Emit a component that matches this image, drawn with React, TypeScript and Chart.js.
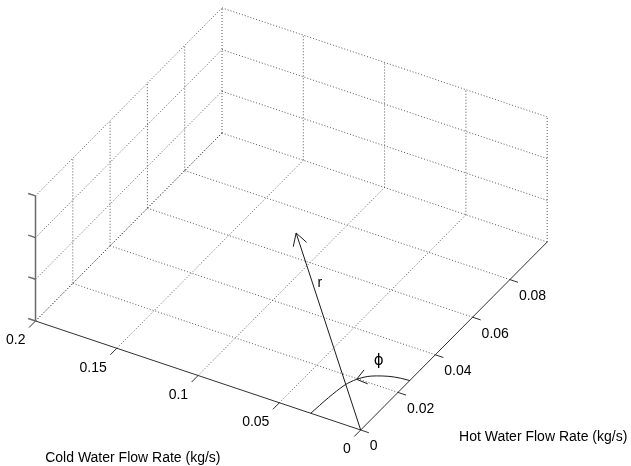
import React, { useEffect, useRef } from 'react';
import { Chart, registerables } from 'chart.js';

Chart.register(...registerables);

// ---- data ----
const coldTicks = [0, 0.05, 0.1, 0.15, 0.2];
const coldTickLabels = ['0', '0.05', '0.1', '0.15', '0.2'];
const hotTicks = [0, 0.02, 0.04, 0.06, 0.08];
const hotTickLabels = ['0', '0.02', '0.04', '0.06', '0.08'];
const zTicks = [0, 1, 2, 3];
const coldRange = [0, 0.2];
const hotRange = [0, 0.1];
const zRange = [0, 3];
// r vector end point (cold, hot) on the floor plane
const rVectorCold = 0.12;
const rVectorHot = 0.07;
// phi arc points (cold, hot)
const arcCold = [0.0307, 0.0297, 0.0279, 0.0251, 0.0215, 0.0175, 0.0115, 0.0055, 0];
const arcHot = [0, 0.0085, 0.0159, 0.0197, 0.0222, 0.0237, 0.0252, 0.026, 0.0263];
const arcArrowIndex = 3;
const coldTitle = 'Cold Water Flow Rate (kg/s)';
const hotTitle = 'Hot Water Flow Rate (kg/s)';

// ---- view (layout) ----
const W = 631;
const H = 466;
const VIEW = { ox: 360.7, oy: 430, cx: -1626, cy: -545, hx: 1865, hy: -1880, zx: 0, zy: -41.7 };
const proj = (c: number, h: number, z: number) => ({
  x: VIEW.ox + c * VIEW.cx + h * VIEW.hx + z * VIEW.zx,
  y: VIEW.oy + c * VIEW.cy + h * VIEW.hy + z * VIEW.zy,
});

const FONT = '"Liberation Sans", Arial, sans-serif';
const GRID = { color: 'rgba(70,70,70,0.9)', width: 1, dash: [1, 2] };
const AXIS = { color: '#303030', width: 1 };
const ZAXIS = { color: '#6a6a6a', width: 1.5 };
const INK = { color: '#1a1a1a', width: 1 };

function seg(pts: { x: number; y: number }[], st: any, tension = 0) {
  return {
    data: pts.map((p) => ({ x: p.x, y: p.y })),
    showLine: true,
    pointRadius: 0,
    pointHoverRadius: 0,
    borderColor: st.color,
    borderWidth: st.width,
    borderDash: st.dash || [],
    tension,
    clip: false,
    fill: false,
  };
}

function arrowHead(from: { x: number; y: number }, tip: { x: number; y: number }, len: number, angDeg: number) {
  const dx = tip.x - from.x;
  const dy = tip.y - from.y;
  const L = Math.hypot(dx, dy);
  const bx = -dx / L;
  const by = -dy / L;
  const a = (angDeg * Math.PI) / 180;
  const w1 = { x: tip.x + len * (bx * Math.cos(a) - by * Math.sin(a)), y: tip.y + len * (bx * Math.sin(a) + by * Math.cos(a)) };
  const w2 = { x: tip.x + len * (bx * Math.cos(-a) - by * Math.sin(-a)), y: tip.y + len * (bx * Math.sin(-a) + by * Math.cos(-a)) };
  return [w1, tip, w2];
}

function buildDatasets() {
  const back: any[] = [];
  const cMax = coldRange[1];
  const hMax = hotRange[1];
  const zMax = zRange[1];
  // floor grid
  coldTicks.filter((c) => c > 0).forEach((c) => back.push(seg([proj(c, 0, 0), proj(c, hMax, 0)], GRID)));
  hotTicks.filter((h) => h > 0).forEach((h) => back.push(seg([proj(0, h, 0), proj(cMax, h, 0)], GRID)));
  // left wall (cold = max)
  hotTicks.forEach((h) => back.push(seg([proj(cMax, h, 0), proj(cMax, h, zMax)], GRID)));
  zTicks.forEach((z) => back.push(seg([proj(cMax, 0, z), proj(cMax, hMax, z)], GRID)));
  // back wall (hot = max)
  coldTicks.forEach((c) => back.push(seg([proj(c, hMax, 0), proj(c, hMax, zMax)], GRID)));
  zTicks.forEach((z) => back.push(seg([proj(0, hMax, z), proj(cMax, hMax, z)], GRID)));
  // axes
  back.push(seg([proj(0, 0, 0), proj(cMax, 0, 0)], AXIS));
  back.push(seg([proj(0, 0, 0), proj(0, hMax, 0)], AXIS));
  back.push(seg([proj(cMax, 0, 0), proj(cMax, 0, zMax)], ZAXIS));
  // ticks
  coldTicks.forEach((c) => back.push(seg([proj(c, 0, 0), proj(c, -0.0035, 0)], AXIS)));
  hotTicks.forEach((h) => back.push(seg([proj(0, h, 0), proj(-0.005, h, 0)], AXIS)));
  zTicks.forEach((z) => back.push(seg([proj(cMax, 0, z), proj(cMax + 0.0045, 0, z)], ZAXIS)));
  // r vector
  const o = proj(0, 0, 0);
  const tip = proj(rVectorCold, rVectorHot, 0);
  back.push(seg([o, tip], INK));
  back.push(seg(arrowHead(o, tip, 14, 30), INK));
  // phi arc
  const arcPts = arcCold.map((c, i) => proj(c, arcHot[i], 0));
  back.push(seg(arcPts, INK, 0.3));
  back.push(seg(arrowHead(arcPts[arcArrowIndex + 1], arcPts[arcArrowIndex], 12, 37), INK));
  return back.reverse();
}

const textPlugin = {
  id: 'texts3d',
  afterDatasetsDraw(chart: any) {
    const ctx = chart.ctx;
    const xs = chart.scales.x;
    const ys = chart.scales.y;
    const px = (p: { x: number; y: number }) => ({ x: xs.getPixelForValue(p.x), y: ys.getPixelForValue(p.y) });
    ctx.save();
    ctx.fillStyle = '#000';
    ctx.textBaseline = 'middle';
    ctx.font = `14px ${FONT}`;
    ctx.textAlign = 'right';
    coldTicks.forEach((c, i) => {
      const p = px(proj(c, 0, 0));
      ctx.fillText(coldTickLabels[i], p.x - 10, p.y + 19.5);
    });
    ctx.textAlign = 'left';
    hotTicks.forEach((h, i) => {
      const p = px(proj(0, h, 0));
      ctx.fillText(hotTickLabels[i], p.x + 9, p.y + 16.5);
    });
    ctx.textAlign = 'center';
    const ct = px(proj(0.0923, -0.0417, 0));
    ctx.fillText(coldTitle, ct.x, ct.y);
    const ht = px(proj(-0.087, 0.022, 0));
    ctx.fillText(hotTitle, ht.x, ht.y + 1);
    const rl = px(proj(0.086, 0.053, 0));
    ctx.fillText('r', rl.x, rl.y);
    ctx.font = `15px "DejaVu Sans", sans-serif`;
    const pl = px(proj(0.024, 0.03, 0));
    ctx.fillText('\u03D5', pl.x + 1, pl.y + 1);
    ctx.restore();
  },
};

export default function App() {
  const ref = useRef<HTMLCanvasElement | null>(null);
  useEffect(() => {
    if (!ref.current) return;
    const chart = new Chart(ref.current, {
      type: 'scatter',
      data: { datasets: buildDatasets() },
      options: {
        animation: false,
        responsive: false,
        devicePixelRatio: 1,
        layout: { padding: 0 },
        events: [],
        scales: {
          x: { type: 'linear', min: 0, max: W, display: false },
          y: { type: 'linear', min: 0, max: H, reverse: true, display: false },
        },
        plugins: { legend: { display: false }, tooltip: { enabled: false }, title: { display: false } },
      },
      plugins: [textPlugin],
    } as any);
    return () => chart.destroy();
  }, []);
  return (
    <div style={{ position: 'fixed', left: 0, top: 0, width: W, height: H, background: '#fff' }}>
      <canvas ref={ref} width={W} height={H} style={{ display: 'block', width: W, height: H }} />
    </div>
  );
}
